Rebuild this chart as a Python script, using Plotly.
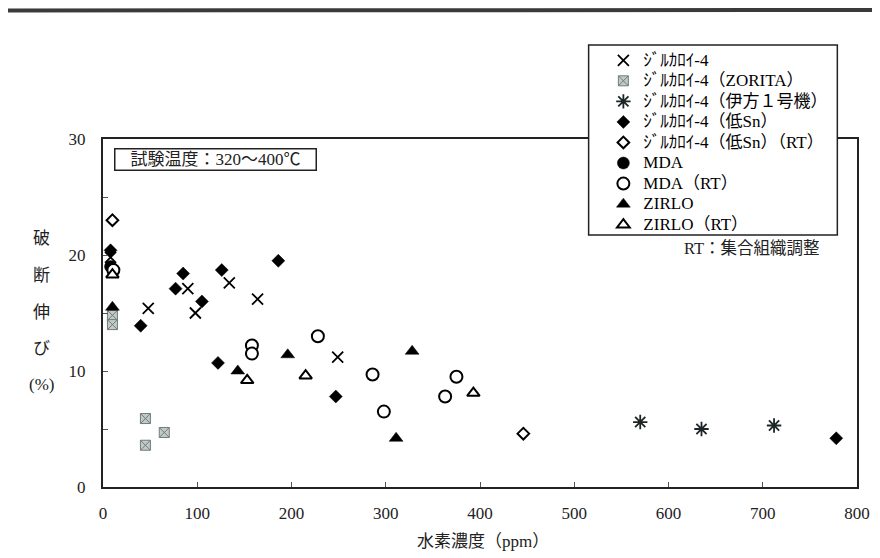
import plotly.graph_objects as go

# ---- data ----
zr4_x = [8, 48, 90, 98, 134, 164, 249]
zr4_y = [19.8, 15.4, 17.1, 15.0, 17.6, 16.2, 11.2]
zorita_x = [10, 10, 45, 65, 45]
zorita_y = [14.8, 14.0, 5.9, 4.7, 3.6]
ikata_x = [570, 635, 712]
ikata_y = [5.6, 5.0, 5.3]
lowsn_x = [8, 40, 77, 85, 105, 122, 126, 186, 247, 778]
lowsn_y = [20.4, 13.9, 17.1, 18.4, 16.0, 10.7, 18.7, 19.5, 7.8, 4.2]
lowsn_rt_x = [10, 446]
lowsn_rt_y = [23.0, 4.6]
mda_x = [8]
mda_y = [19.0]
mda_rt_x = [11, 158, 158, 228, 286, 298, 363, 375]
mda_rt_y = [18.7, 12.2, 11.5, 13.0, 9.7, 6.5, 7.8, 9.5]
zirlo_x = [10, 143, 196, 311, 328]
zirlo_y = [15.5, 10.0, 11.4, 4.2, 11.7]
zirlo_rt_x = [10, 153, 215, 393]
zirlo_rt_y = [18.3, 9.2, 9.6, 8.1]

series_names = ["ｼﾞﾙｶﾛｲ-4", "ｼﾞﾙｶﾛｲ-4（ZORITA）", "ｼﾞﾙｶﾛｲ-4（伊方１号機）",
                "ｼﾞﾙｶﾛｲ-4（低Sn）", "ｼﾞﾙｶﾛｲ-4（低Sn）（RT）", "MDA", "MDA（RT）",
                "ZIRLO", "ZIRLO（RT）"]

x_ticks = [0, 100, 200, 300, 400, 500, 600, 700, 800]
y_ticks = [0, 5, 10, 15, 20, 25, 30]
y_ticktext = ["0", "", "10", "", "20", "", "30"]

x_title = "水素濃度（ppm）"
y_title_chars = ["破", "断", "伸", "び", "(%)"]
cond_text = "試験温度：320～400℃"
note_text = "RT：集合組織調整"

FONT = "'Liberation Serif', 'Noto Sans CJK JP', serif"

markers = [
    dict(symbol="x-thin-open", size=11, color="black", line=dict(width=1.8, color="black")),
    dict(symbol="square-x", size=10, color="#c3c9c9", line=dict(width=1, color="#6f7c7c")),
    dict(symbol="asterisk-open", size=12, color="#1c2626", line=dict(width=1.8, color="#1c2626")),
    dict(symbol="diamond", size=10, color="black", line=dict(width=0.5, color="black")),
    dict(symbol="diamond", size=9, color="white", line=dict(width=2, color="black")),
    dict(symbol="circle", size=12, color="black", line=dict(width=0.5, color="black")),
    dict(symbol="circle", size=12, color="white", line=dict(width=2, color="black")),
    dict(symbol="triangle-up", size=12, color="black", line=dict(width=0.5, color="black")),
    dict(symbol="triangle-up", size=11, color="white", line=dict(width=2, color="black")),
]
xs = [zr4_x, zorita_x, ikata_x, lowsn_x, lowsn_rt_x, mda_x, mda_rt_x, zirlo_x, zirlo_rt_x]
ys = [zr4_y, zorita_y, ikata_y, lowsn_y, lowsn_rt_y, mda_y, mda_rt_y, zirlo_y, zirlo_rt_y]

fig = go.Figure()
for name, x, y, m in zip(series_names, xs, ys, markers):
    fig.add_trace(go.Scatter(
        x=x, y=y, mode="markers", marker=m,
        name='<span style="font-size:17px">' + name + '</span>'))

# page has an 8px body margin: design in page coordinates, shift by OFF
OFF = 8
W, H = 880 - OFF, 558 - OFF
PL, PR, PT, PB = 103, 870, 139, 487          # plot area in page pixels
L, R, T, B = PL - OFF, 880 - PR, PT - OFF, (H + OFF) - PB
pw, ph = PR - PL, PB - PT

def px(xp):
    return (xp - PL) / pw

def py(yp):
    return (PB - yp) / ph

fig.update_layout(
    width=W, height=H,
    margin=dict(l=L, r=R, t=T, b=B, pad=0),
    paper_bgcolor="white", plot_bgcolor="white",
    font=dict(family=FONT, size=17, color="black"),
    showlegend=True,
    legend=dict(
        x=px(612), y=py(45), xanchor="left", yanchor="top",
        bgcolor="rgba(0,0,0,0)", borderwidth=0,
        font=dict(family=FONT, size=13.5, color="black"),
        itemsizing="trace",
    ),
)

fig.update_xaxes(
    range=[0, 800], tickvals=x_ticks, ticktext=[str(v) for v in x_ticks],
    ticks="inside", ticklen=5, tickcolor="#555", tickwidth=1,
    showline=True, linecolor="#222", linewidth=2, mirror=True,
    showgrid=False, zeroline=False,
    tickfont=dict(family=FONT, size=17, color="#222"),
    ticklabelstandoff=10, ticklabeloverflow="allow",
)
fig.update_yaxes(
    range=[0, 30], tickvals=y_ticks, ticktext=y_ticktext,
    ticks="inside", ticklen=5, tickcolor="#555", tickwidth=1,
    showline=True, linecolor="#222", linewidth=2, mirror=True,
    showgrid=False, zeroline=False,
    tickfont=dict(family=FONT, size=17, color="#222"),
    ticklabelstandoff=12, ticklabeloverflow="allow",
)

shapes = [
    # legend box
    dict(type="rect", xref="paper", yref="paper",
         x0=px(597), x1=px(850), y0=py(235), y1=py(45),
         fillcolor="white", line=dict(color="#222", width=1.5), layer="above"),
    # scan border at top of page
    dict(type="line", xref="paper", yref="paper",
         x0=px(0), x1=px(900), y0=py(10.5), y1=py(10),
         line=dict(color="#3a3a3a", width=4), layer="above"),
]
fig.update_layout(shapes=shapes)

ann = [
    dict(text=cond_text, xref="paper", yref="paper", x=px(217), y=py(159),
         xanchor="center", yanchor="middle", showarrow=False,
         font=dict(family=FONT, size=17, color="#222"),
         bordercolor="#222", borderwidth=1.5, borderpad=1, bgcolor="white",
         width=198, height=18),
    dict(text=note_text, xref="paper", yref="paper", x=px(763), y=py(248),
         xanchor="center", yanchor="middle", showarrow=False,
         font=dict(family=FONT, size=16.5, color="#222")),
    dict(text=x_title, xref="paper", yref="paper", x=px(490), y=py(541),
         xanchor="center", yanchor="middle", showarrow=False,
         font=dict(family=FONT, size=17, color="#222")),
]
for ch, yp in zip(y_title_chars, [238, 275, 312, 348, 384]):
    ann.append(dict(text=ch, xref="paper", yref="paper", x=px(40), y=py(yp),
                    xanchor="center", yanchor="middle", showarrow=False,
                    font=dict(family=FONT, size=17, color="#222")))
fig.update_layout(annotations=ann)

fig.write_html("out.html")
